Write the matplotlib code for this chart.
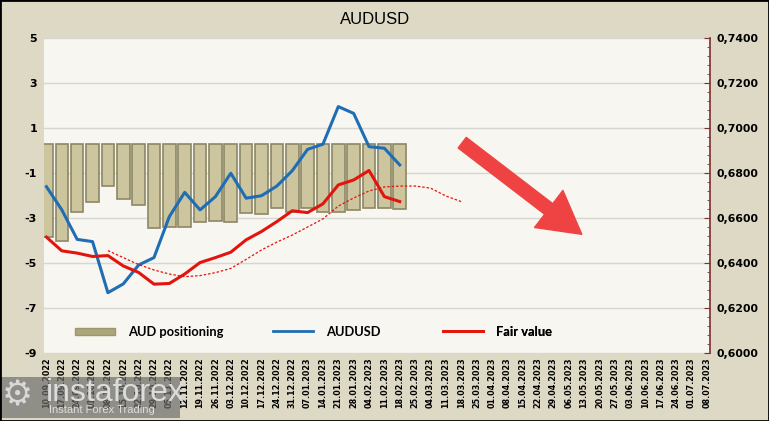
import numpy as np
import matplotlib
matplotlib.use("Agg")
from matplotlib import pyplot as plt
from matplotlib.patches import Patch, Rectangle, FancyArrowPatch
from matplotlib.lines import Line2D
from matplotlib.ticker import FuncFormatter, MultipleLocator

plt.rcParams["axes.unicode_minus"] = False

# weekly dates on the category axis
dates = ["10.09.2022", "17.09.2022", "24.09.2022", "01.10.2022", "08.10.2022", "15.10.2022",
         "22.10.2022", "29.10.2022", "05.11.2022", "12.11.2022", "19.11.2022", "26.11.2022",
         "03.12.2022", "10.12.2022", "17.12.2022", "24.12.2022", "31.12.2022", "07.01.2023",
         "14.01.2023", "21.01.2023", "28.01.2023", "04.02.2023", "11.02.2023", "18.02.2023",
         "25.02.2023", "04.03.2023", "11.03.2023", "18.03.2023", "25.03.2023", "01.04.2023",
         "08.04.2023", "15.04.2023", "22.04.2023", "29.04.2023", "06.05.2023", "13.05.2023",
         "20.05.2023", "27.05.2023", "03.06.2023", "10.06.2023", "17.06.2023", "24.06.2023",
         "01.07.2023", "08.07.2023"]

# AUD positioning (left axis), bars hang from the axis base
positioning = [-3.86, -4.02, -2.73, -2.27, -1.58, -2.16, -2.44, -3.43, -3.39, -3.39, -3.16, -3.12,
               -3.16, -2.76, -2.81, -2.57, -2.72, -2.57, -2.72, -2.72, -2.64, -2.57, -2.57, -2.61]
bar_base = 0.28

# AUDUSD and fair value (right axis)
audusd = [0.6739, 0.6636, 0.6505, 0.6495, 0.6268, 0.6307, 0.6391, 0.6424, 0.6606, 0.6714, 0.6636, 0.6695,
          0.6799, 0.6688, 0.6699, 0.6742, 0.6810, 0.6905, 0.6928, 0.7095, 0.7065, 0.6917, 0.6910, 0.6836]
fair = [0.6515, 0.6454, 0.6444, 0.6429, 0.6433, 0.6387, 0.6358, 0.6306, 0.6309, 0.6351, 0.6402, 0.6424,
        0.6448, 0.6503, 0.6540, 0.6584, 0.6632, 0.6624, 0.6663, 0.6747, 0.6769, 0.6811, 0.6695, 0.6673]
# dotted fair value trend, starts at the 5th week
trend_start = 4
fair_trend = [0.6455, 0.6424, 0.6393, 0.6369, 0.6351, 0.6339, 0.6344, 0.6357, 0.6376, 0.6416, 0.6458, 0.6493,
              0.6524, 0.6560, 0.6596, 0.6653, 0.6689, 0.6720, 0.6738, 0.6742, 0.6742, 0.6733, 0.6698, 0.6673]

W, H = 769, 421
fig = plt.figure(figsize=(W / 100, H / 100), dpi=100, facecolor="#DDD9C4")
ax = fig.add_axes([44 / W, 1 - 353 / H, 666 / W, 315 / H])
ax.set_facecolor("#F8F6F1")

x = np.arange(len(positioning))
heights = [p - bar_base for p in positioning]
ax.bar(x, heights, bottom=bar_base, width=0.82, color="#CDC59D", edgecolor="#8C8765", linewidth=1.2, zorder=2)

ax.set_ylim(-9, 5)
ax.set_yticks(range(-9, 6, 2))
ax.set_xlim(-0.16, 43.2)
ax.set_xticks(range(len(dates)))
ax.set_xticklabels(dates, rotation=90, fontsize=5.8, fontweight="bold", family="DejaVu Sans")
ax.grid(axis="y", color="#D8D6D0", linewidth=1, zorder=0)
ax.set_axisbelow(True)
ax.tick_params(axis="x", length=0, pad=3)
ax.tick_params(axis="y", length=0, pad=5, labelsize=8)
for lbl in ax.get_yticklabels():
    lbl.set_fontweight("bold")
for s in ax.spines.values():
    s.set_visible(False)

ax2 = ax.twinx()
ax2.plot(x, audusd, color="#1F6EB5", linewidth=2.2, zorder=3)
ax2.plot(x, fair, color="#E3140E", linewidth=2.2, zorder=3)
ax2.plot(np.arange(trend_start, trend_start + len(fair_trend)), fair_trend, color="#E3140E",
         linewidth=0.9, linestyle=(0, (2, 1.5)), zorder=3)
ax2.set_ylim(0.60, 0.74)
ax2.yaxis.set_major_locator(MultipleLocator(0.02))
ax2.yaxis.set_minor_locator(MultipleLocator(0.004))
ax2.yaxis.set_major_formatter(FuncFormatter(lambda v, p: f"{v:.4f}".replace(".", ",")))
ax2.tick_params(axis="y", which="both", direction="in", color="#7A3030", labelsize=7.8, pad=5)
ax2.tick_params(axis="y", which="major", length=4)
ax2.tick_params(axis="y", which="minor", length=2)
for lbl in ax2.get_yticklabels():
    lbl.set_fontweight("bold")
for k, s in ax2.spines.items():
    s.set_visible(k == "right")
ax2.spines["right"].set_color("#7A3030")
ax2.spines["right"].set_linewidth(1.2)

# legend, three separate entries spread along the bottom
leg_font = {"family": "Lato", "weight": "bold", "size": 9.3}
entries = [
    (Patch(facecolor="#ABA679", edgecolor="#9C976C"), "AUD positioning", 75, 0.45),
    (Line2D([], [], color="#1F6EB5", linewidth=2), "AUDUSD", 273, 0.7),
    (Line2D([], [], color="#E3140E", linewidth=2), "Fair value", 443, 0.7),
]
for handle, label, px, hh in entries:
    leg = ax2.legend([handle], [label], loc="center left", bbox_to_anchor=(px / W, 1 - 332 / H),
                     bbox_transform=fig.transFigure, frameon=False, prop=leg_font,
                     handlelength=3.1, handleheight=hh, handletextpad=1.0, borderpad=0, borderaxespad=0)
    ax2.add_artist(leg)

fig.text(375 / W, 1 - 19 / H, "AUDUSD", ha="center", va="center", fontsize=12, family="Liberation Sans")

# red arrow pointing down
arrow = FancyArrowPatch((460 / W, 1 - 141 / H), (584 / W, 1 - 236 / H), transform=fig.transFigure,
                        arrowstyle="simple,head_width=2.8,head_length=2.5,tail_width=0.8",
                        mutation_scale=12, color="#EF4343", capstyle="round", zorder=10)
fig.add_artist(arrow)

# watermark
fig.add_artist(Rectangle((0, 1 - 418 / H), 180 / W, 41 / H, transform=fig.transFigure,
                         facecolor="#6E6E6E", alpha=0.7, edgecolor="none", zorder=9))
fig.text(2 / W, 1 - 396 / H, "\u2699", fontsize=25, color="#D8D8D8", va="center", zorder=10)
fig.text(46 / W, 1 - 393 / H, "instaforex", fontsize=23, color="#DCDCDC", va="center",
         family="Liberation Sans", zorder=10)
fig.text(49 / W, 1 - 410 / H, "Instant Forex Trading", fontsize=8, color="#DCDCDC", va="center",
         family="Liberation Sans", zorder=10)

fig.add_artist(Rectangle((0, 0), 1, 1, transform=fig.transFigure, fill=False, edgecolor="black",
                         linewidth=2, zorder=11))

fig.savefig("out.png", dpi=100, facecolor=fig.get_facecolor())
